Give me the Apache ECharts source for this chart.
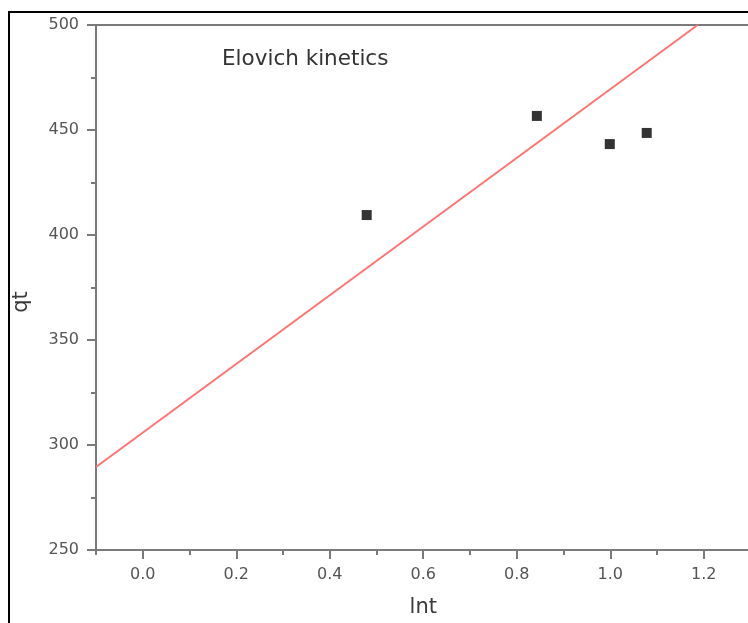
<!DOCTYPE html>
<html>
<head>
<meta charset="utf-8">
<script src="https://cdn.jsdelivr.net/npm/echarts@6/dist/echarts.min.js"></script>
<style>
  html, body { margin: 0; padding: 0; background: #fff; }
  #main { width: 748px; height: 623px; }
</style>
</head>
<body>
<div id="main"></div>
<script>
// measured points (lnt, qt)
var lntValues = [0.479, 0.843, 0.999, 1.078];
var qtValues = [409.5, 456.7, 443.3, 448.6];
// red fit line end points
var fitX = [-0.1, 1.187];
var fitY = [289.5, 500];
// axis ticks
var xMajorTicks = [0.0, 0.2, 0.4, 0.6, 0.8, 1.0, 1.2];
var xRange = [-0.1, 1.3];
var yTicks = [250, 300, 350, 400, 450, 500];

var chartDom = document.getElementById("main");
var myChart = echarts.init(chartDom);

var axisColor = "#7a7a7a";
var labelFont = { fontFamily: "DejaVu Sans", fontSize: 16, color: "#555" };
var nameFont = { fontFamily: "DejaVu Sans", fontSize: 21, color: "#3a3a3a" };

myChart.setOption({
  animation: false,
  grid: {
    left: 96,
    top: 25,
    width: 654.5,
    height: 525,
    outerBoundsMode: "none",
    show: true,
    borderColor: axisColor,
    borderWidth: 2
  },
  graphic: [
    { type: "line", shape: { x1: 8, y1: 12, x2: 748, y2: 12 }, style: { stroke: "#000", lineWidth: 2 } },
    { type: "line", shape: { x1: 9, y1: 12, x2: 9, y2: 623 }, style: { stroke: "#000", lineWidth: 2 } },
    {
      type: "text", left: 222, top: 48,
      style: { text: "Elovich kinetics", font: "21.5px 'DejaVu Sans'", fill: "#333" }
    },
    {
      type: "text", x: 22, y: 302, rotation: Math.PI / 2,
      style: { text: "qt", font: "21px 'DejaVu Sans'", fill: "#3a3a3a", align: "center", verticalAlign: "middle" }
    }
  ],
  xAxis: [
    {
      type: "value",
      min: xRange[0],
      max: xRange[1],
      interval: 0.1,
      name: "lnt",
      nameLocation: "middle",
      nameGap: 47,
      nameTextStyle: nameFont,
      axisLine: { onZero: false, lineStyle: { color: axisColor, width: 2 } },
      axisTick: { show: true, length: 9, customValues: xMajorTicks, lineStyle: { color: axisColor, width: 2 } },
      splitLine: { show: false },
      axisLabel: Object.assign({
        margin: 17,
        customValues: xMajorTicks,
        formatter: function (v) { return v.toFixed(1); }
      }, labelFont)
    },
    {
      // short minor ticks every 0.1
      type: "value",
      min: xRange[0],
      max: xRange[1],
      interval: 0.1,
      position: "bottom",
      axisLine: { show: false, onZero: false },
      axisTick: { show: true, length: 5, lineStyle: { color: axisColor, width: 2 } },
      axisLabel: { show: false },
      splitLine: { show: false }
    }
  ],
  yAxis: {
    type: "value",
    min: yTicks[0],
    max: yTicks[yTicks.length - 1],
    interval: yTicks[1] - yTicks[0],
    axisLine: { onZero: false, lineStyle: { color: axisColor, width: 2 } },
    axisTick: { show: true, length: 9, lineStyle: { color: axisColor, width: 2 } },
    minorTick: { show: true, splitNumber: 2, length: 5, lineStyle: { color: axisColor, width: 2 } },
    splitLine: { show: false },
    axisLabel: Object.assign({ margin: 17 }, labelFont)
  },
  series: [
    {
      type: "line",
      data: fitX.map(function (x, i) { return [x, fitY[i]]; }),
      showSymbol: false,
      lineStyle: { color: "#ff7373", width: 2 },
      silent: true
    },
    {
      type: "scatter",
      data: lntValues.map(function (x, i) { return [x, qtValues[i]]; }),
      symbol: "rect",
      symbolSize: 10,
      itemStyle: { color: "#000" }
    }
  ]
});
</script>
</body>
</html>
